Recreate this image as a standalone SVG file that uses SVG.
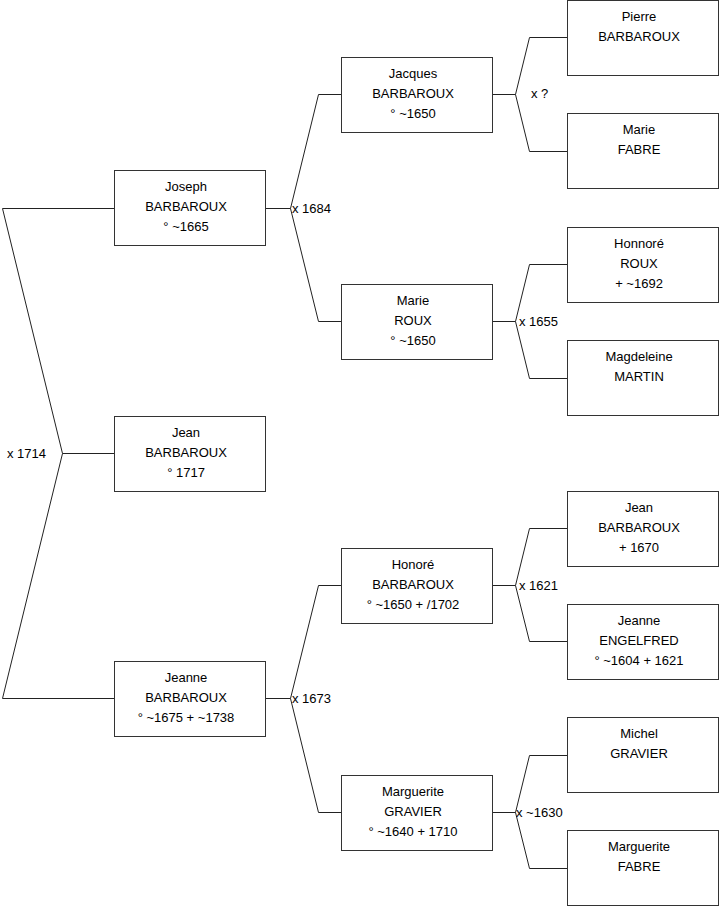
<svg xmlns="http://www.w3.org/2000/svg" width="719" height="908" viewBox="0 0 719 908">
<style>
.box{fill:#fff;stroke:#333;stroke-width:1}
.ln{fill:none;stroke:#222;stroke-width:1}
text{font-family:"Liberation Sans",Arial,sans-serif;font-size:13px;fill:#000}
.c{text-anchor:middle}
</style>
<rect width="719" height="908" fill="#fff"/>
<g id="connectors">
<path class="ln" d="M114.5,208.5 H2.5 L62.5,453.5 L2.5,698.5 H114.5 M62.5,453.5 H114.5"/>
<path class="ln" d="M265.5,208.5 H290.5 M341.5,94.5 H318.5 L290.5,208.5 L318.5,321.5 H341.5"/>
<path class="ln" d="M265.5,698.5 H290.5 M341.5,585.5 H318.5 L290.5,698.5 L318.5,812.5 H341.5"/>
<path class="ln" d="M492.5,94.5 H515.5 M567.5,37.5 H529.5 L515.5,94.5 L529.5,151.5 H567.5"/>
<path class="ln" d="M492.5,321.5 H515.5 M567.5,264.5 H529.5 L515.5,321.5 L529.5,378.5 H567.5"/>
<path class="ln" d="M492.5,585.5 H515.5 M567.5,528.5 H529.5 L515.5,585.5 L529.5,641.5 H567.5"/>
<path class="ln" d="M492.5,812.5 H515.5 M567.5,755.5 H529.5 L515.5,812.5 L529.5,868.5 H567.5"/>
<text x="7" y="458">x 1714</text>
<text x="292" y="213">x 1684</text>
<text x="292" y="703">x 1673</text>
<text x="531" y="98">x ?</text>
<text x="519" y="326">x 1655</text>
<text x="519" y="590">x 1621</text>
<text x="516" y="817">x ~1630</text>
</g>
<g id="joseph"><rect class="box" x="114.5" y="170.5" width="151" height="75"/><text class="c" x="186" y="191">Joseph</text><text class="c" x="186" y="211">BARBAROUX</text><text class="c" x="186" y="231">° ~1665</text></g>
<g id="jean"><rect class="box" x="114.5" y="416.5" width="151" height="75"/><text class="c" x="186" y="437">Jean</text><text class="c" x="186" y="457">BARBAROUX</text><text class="c" x="186" y="477">° 1717</text></g>
<g id="jeanne"><rect class="box" x="114.5" y="661.5" width="151" height="75"/><text class="c" x="186" y="682">Jeanne</text><text class="c" x="186" y="702">BARBAROUX</text><text class="c" x="186" y="722">° ~1675 + ~1738</text></g>
<g id="jacques"><rect class="box" x="341.5" y="57.5" width="151" height="75"/><text class="c" x="413" y="78">Jacques</text><text class="c" x="413" y="98">BARBAROUX</text><text class="c" x="413" y="118">° ~1650</text></g>
<g id="marie-roux"><rect class="box" x="341.5" y="284.5" width="151" height="75"/><text class="c" x="413" y="305">Marie</text><text class="c" x="413" y="325">ROUX</text><text class="c" x="413" y="345">° ~1650</text></g>
<g id="honore"><rect class="box" x="341.5" y="548.5" width="151" height="75"/><text class="c" x="413" y="569">Honoré</text><text class="c" x="413" y="589">BARBAROUX</text><text class="c" x="413" y="609">° ~1650 + /1702</text></g>
<g id="marguerite-gravier"><rect class="box" x="341.5" y="775.5" width="151" height="75"/><text class="c" x="413" y="796">Marguerite</text><text class="c" x="413" y="816">GRAVIER</text><text class="c" x="413" y="836">° ~1640 + 1710</text></g>
<g id="pierre"><rect class="box" x="567.5" y="0.5" width="151" height="75"/><text class="c" x="639" y="21">Pierre</text><text class="c" x="639" y="41">BARBAROUX</text></g>
<g id="marie-fabre"><rect class="box" x="567.5" y="113.5" width="151" height="75"/><text class="c" x="639" y="134">Marie</text><text class="c" x="639" y="154">FABRE</text></g>
<g id="honnore-roux"><rect class="box" x="567.5" y="227.5" width="151" height="75"/><text class="c" x="639" y="248">Honnoré</text><text class="c" x="639" y="268">ROUX</text><text class="c" x="639" y="288">+ ~1692</text></g>
<g id="magdeleine"><rect class="box" x="567.5" y="340.5" width="151" height="75"/><text class="c" x="639" y="361">Magdeleine</text><text class="c" x="639" y="381">MARTIN</text></g>
<g id="jean-b"><rect class="box" x="567.5" y="491.5" width="151" height="75"/><text class="c" x="639" y="512">Jean</text><text class="c" x="639" y="532">BARBAROUX</text><text class="c" x="639" y="552">+ 1670</text></g>
<g id="jeanne-engelfred"><rect class="box" x="567.5" y="604.5" width="151" height="75"/><text class="c" x="639" y="625">Jeanne</text><text class="c" x="639" y="645">ENGELFRED</text><text class="c" x="639" y="665">° ~1604 + 1621</text></g>
<g id="michel"><rect class="box" x="567.5" y="717.5" width="151" height="75"/><text class="c" x="639" y="738">Michel</text><text class="c" x="639" y="758">GRAVIER</text></g>
<g id="marguerite-fabre"><rect class="box" x="567.5" y="830.5" width="151" height="75"/><text class="c" x="639" y="851">Marguerite</text><text class="c" x="639" y="871">FABRE</text></g>
</svg>
